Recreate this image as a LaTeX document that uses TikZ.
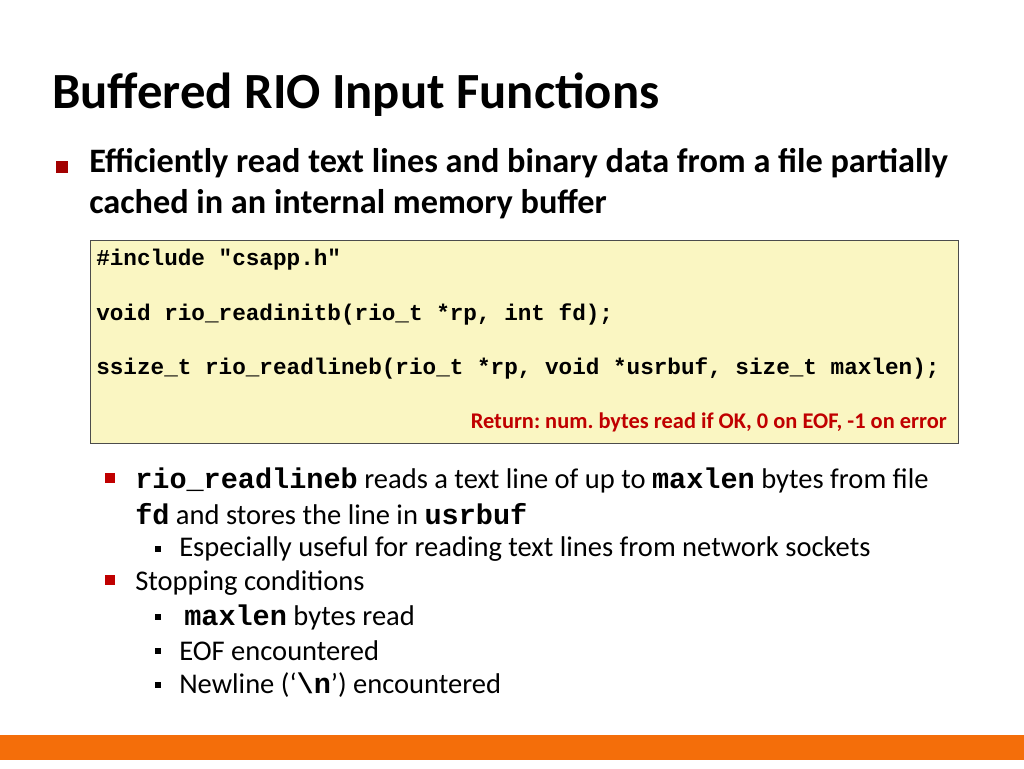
\documentclass[tikz,border=0pt]{standalone}
\usepackage{fontspec}
\setmainfont{Carlito}
\setmonofont{Liberation Mono}
\frenchspacing
\definecolor{bulletred}{RGB}{192,0,0}
\definecolor{codebg}{RGB}{250,246,194}
\definecolor{barorange}{RGB}{244,110,10}
\tikzset{
  body/.style={anchor=west,inner sep=0pt,font=\fontsize{21.4}{25}\selectfont},
  code/.style={anchor=west,inner sep=0pt,font=\fontsize{17}{20}\selectfont\ttfamily\bfseries},
  sqbig/.style={fill=bulletred,minimum size=8pt,inner sep=0pt},
  sqsmall/.style={fill=black,minimum size=4.5pt,inner sep=0pt}
}
\newcommand{\tb}[1]{{\ttfamily\bfseries #1}}
\begin{document}
\begin{tikzpicture}[x=0.75pt,y=0.75pt,yscale=-1,xscale=1]
\useasboundingbox (0,0) rectangle (1024,768);
\fill[white] (0,0) rectangle (1024,768);

% title
\node[anchor=west,inner sep=0pt,font=\fontsize{38}{44}\selectfont\bfseries] (title) at (52,95) {Buffered RIO Input Functions};

% main bullet
\node[fill=bulletred!85!black,minimum size=8.5pt,inner sep=0pt] (b1) at (62,167) {};
\node[anchor=west,inner sep=0pt,font=\fontsize{25.7}{30}\selectfont\bfseries] (t1) at (89,163)
  {Efficiently read text lines and binary data from a file partially};
\node[anchor=west,inner sep=0pt,font=\fontsize{25.7}{30}\selectfont\bfseries] (t2) at (89,204)
  {cached in an internal memory buffer};

% code box
\draw[draw=black!70,fill=codebg] (90,240) rectangle (958,443);
\node[code] (c1) at (96,260) {\#include "csapp.h"};
\node[code] (c2) at (96,314) {void rio\_readinitb(rio\_t *rp, int fd);};
\node[code] (c3) at (96,368) {ssize\_t rio\_readlineb(rio\_t *rp, void *usrbuf, size\_t maxlen);};
\node[anchor=east,inner sep=0pt,text=bulletred,font=\fontsize{16.8}{19}\selectfont\bfseries] (ret) at (947,422)
  {Return: num. bytes read if OK, 0 on EOF, -1 on error};

% sub bullets
\node[sqbig] (s1) at (110,478) {};
\node[body] (l1) at (135,480) {\tb{rio\_readlineb} reads a text line of up to \tb{maxlen} bytes from file};
\node[body] (l2) at (135,514) {\tb{fd} and stores the line in \tb{usrbuf}};
\node[sqsmall] (q1) at (158,549) {};
\node[body] (l3) at (179,549) {Especially useful for reading text lines from network sockets};
\node[sqbig] (s2) at (110,580) {};
\node[body] (l4) at (135,583) {Stopping conditions};
\node[sqsmall] (q2) at (158,617) {};
\node[body] (l5) at (184,617) {\tb{maxlen} bytes read};
\node[sqsmall] (q3) at (158,651) {};
\node[body] (l6) at (179,651) {EOF encountered};
\node[sqsmall] (q4) at (158,685) {};
\node[body] (l7) at (179,685) {Newline (‘\tb{\textbackslash n}’) encountered};

% footer bar
\fill[barorange] (0,735) rectangle (1024,760);
\end{tikzpicture}
\end{document}
